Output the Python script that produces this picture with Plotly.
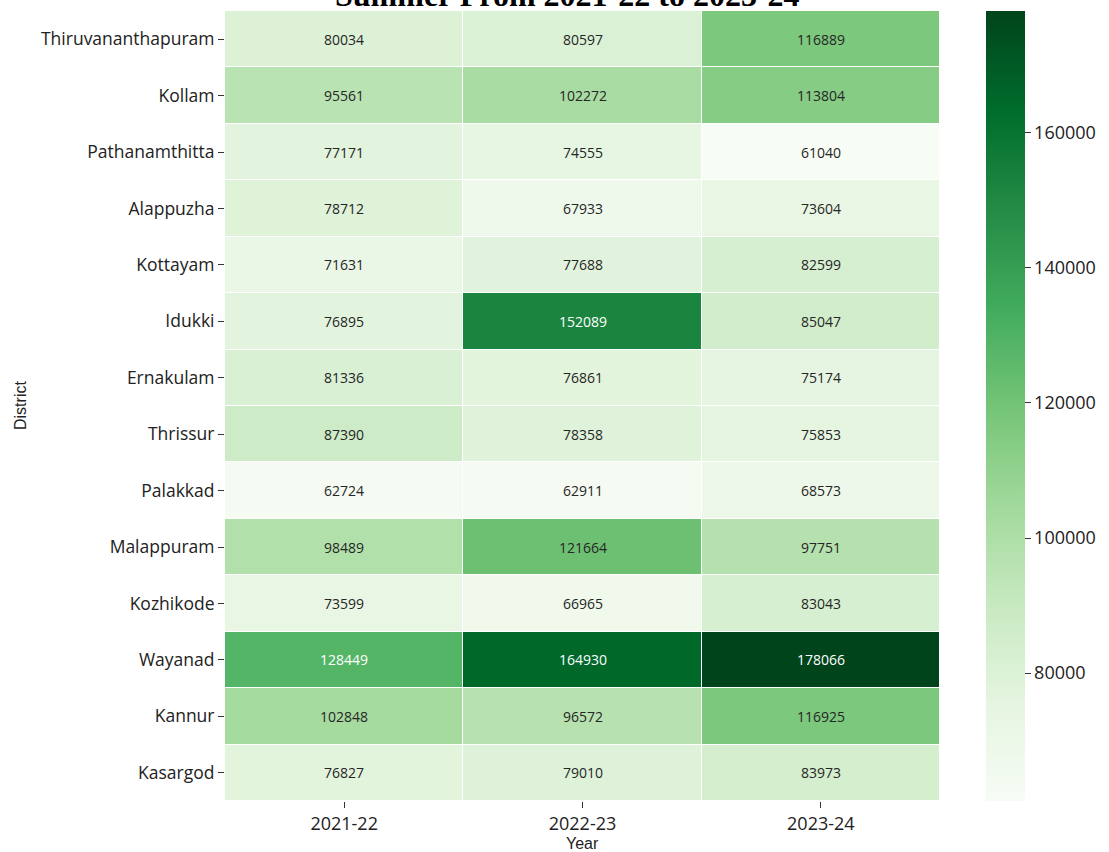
import plotly.graph_objects as go

years = ["2021-22", "2022-23", "2023-24"]
districts = ["Thiruvananthapuram", "Kollam", "Pathanamthitta", "Alappuzha", "Kottayam",
             "Idukki", "Ernakulam", "Thrissur", "Palakkad", "Malappuram", "Kozhikode",
             "Wayanad", "Kannur", "Kasargod"]
v2021_22 = [80034, 95561, 77171, 78712, 71631, 76895, 81336, 87390, 62724, 98489, 73599, 128449, 102848, 76827]
v2022_23 = [80597, 102272, 74555, 67933, 77688, 152089, 76861, 78358, 62911, 121664, 66965, 164930, 96572, 79010]
v2023_24 = [116889, 113804, 61040, 73604, 82599, 85047, 75174, 75853, 68573, 97751, 83043, 178066, 116925, 83973]
cbar_ticks = [80000, 100000, 120000, 140000, 160000]

z = [[a, b, c] for a, b, c in zip(v2021_22, v2022_23, v2023_24)]
zmin = min(min(r) for r in z)
zmax = max(max(r) for r in z)

greens = ["#f7fcf5", "#e5f5e0", "#c7e9c0", "#a1d99b", "#74c476",
          "#41ab5d", "#238b45", "#006d2c", "#00441b"]
cs = [[i / (len(greens) - 1), c] for i, c in enumerate(greens)]

L, R, T, B = 225, 169, 11, 51
W, H = 1109, 852
pw, ph = W - L - R, H - T - B

fig = go.Figure(go.Heatmap(
    z=z, x=years, y=districts, colorscale=cs, zmin=zmin, zmax=zmax,
    xgap=1, ygap=1, hoverongaps=False,
    colorbar=dict(
        x=(986 - L) / pw, xanchor="left", xref="paper", xpad=0, ypad=0,
        y=0.5, yanchor="middle", len=1.0,
        thickness=39, outlinewidth=0, ticks="outside", ticklen=6, tickcolor="#333",
        tickvals=cbar_ticks, ticktext=[str(t) for t in cbar_ticks],
        tickfont=dict(family="Open Sans", size=18, color="#222"),
    ),
))

thr = 125000
for i, d in enumerate(districts):
    for j, yname in enumerate(years):
        val = z[i][j]
        fig.add_annotation(x=yname, y=d, text=str(val), showarrow=False,
                           font=dict(family="Open Sans", size=14,
                                     color="white" if val > thr else "#262626"))

fig.add_annotation(x=(567 - L) / pw, y=1.0, xref="paper", yref="paper", xanchor="center",
                   yanchor="bottom", yshift=-4, text="<b>Summer From 2021-22 to 2023-24</b>",
                   showarrow=False, font=dict(family="Liberation Serif", size=32, color="black"))
fig.add_annotation(x=0.5, y=(801 - 843) / ph, xref="paper", yref="paper", xanchor="center",
                   yanchor="middle", text="Year", showarrow=False,
                   font=dict(family="Liberation Sans", size=16, color="#222"))
fig.add_annotation(x=(20 - L) / pw, y=0.5, xref="paper", yref="paper", xanchor="center",
                   yanchor="middle", text="District", textangle=-90, showarrow=False,
                   font=dict(family="Liberation Sans", size=16, color="#222"))

fig.update_layout(
    width=W, height=H,
    margin=dict(l=L, r=R, t=T, b=B, autoexpand=False),
    plot_bgcolor="white", paper_bgcolor="white",
    xaxis=dict(automargin=False, ticks="outside", ticklen=6, tickcolor="#333", showgrid=False,
               zeroline=False, tickfont=dict(family="Open Sans", size=18, color="#222")),
    yaxis=dict(automargin=False, autorange="reversed", ticks="outside", ticklen=6, tickcolor="#333",
               showgrid=False, zeroline=False,
               tickfont=dict(family="Open Sans", size=17.5, color="#222")),
)

fig.write_html("out.html", config={"displayModeBar": False},
               post_script="document.body.style.margin='0';document.body.style.padding='0';")
